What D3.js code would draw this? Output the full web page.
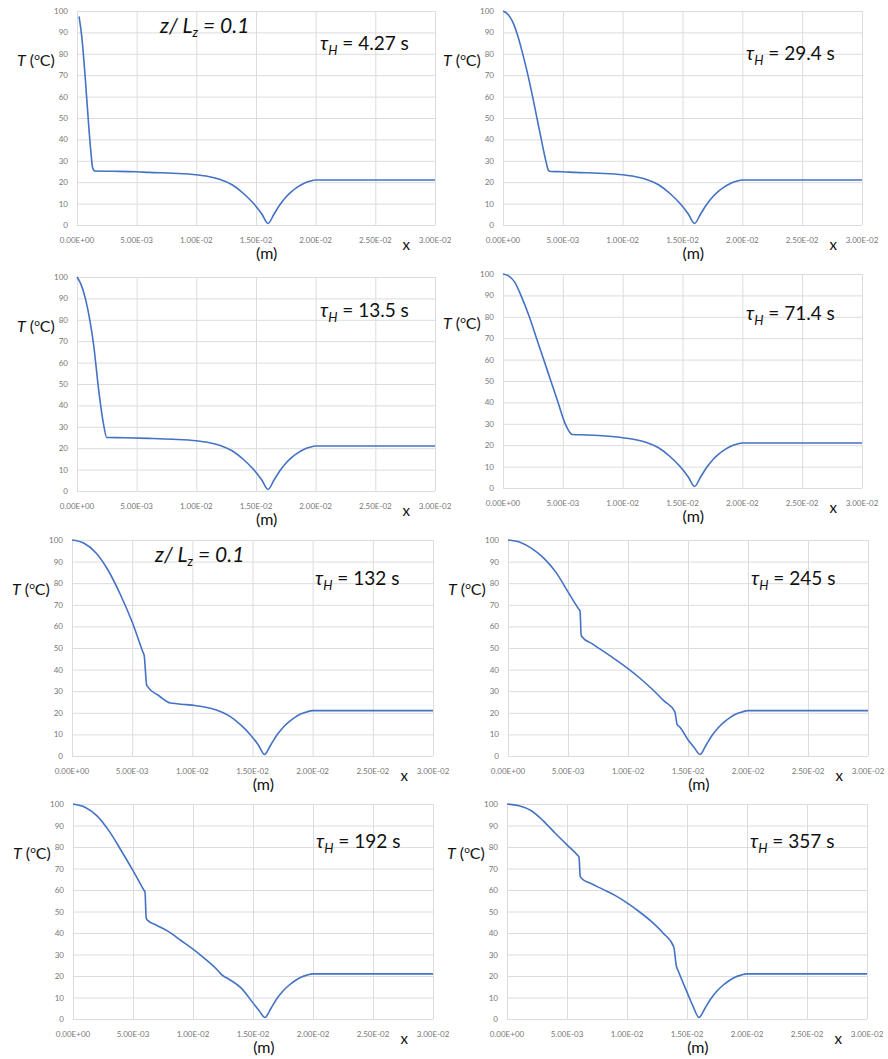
<!DOCTYPE html>
<html>
<head>
<meta charset="utf-8">
<script src="https://cdn.jsdelivr.net/npm/d3@7"></script>
<style>
  body { margin: 0; background: #fff; }
  svg { display: block; }
</style>
</head>
<body>
<script>
// tick values
var xTicks = [0, 0.005, 0.01, 0.015, 0.02, 0.025, 0.03];
var yTicks = [0, 10, 20, 30, 40, 50, 60, 70, 80, 90, 100];

// shared part of every profile: dip to ~0 at x = 1.6E-02, then flat 21
var tail = [[0.006,24.6],[0.008,24.2],[0.01,23.5],[0.011,22.7],[0.012,21.3],[0.013,18.8],
  [0.014,14.5],[0.0148,10],[0.0155,5],[0.016,0.7],[0.0165,5],[0.017,9.5],[0.0175,13],
  [0.018,15.7],[0.0185,17.8],[0.019,19.4],[0.0195,20.4],[0.02,21],[0.025,21],[0.03,21]];

// heads of each profile (x in m, T in C)
var t427 = [[0.00017,97.5],[0.0004,88],[0.0007,68],[0.001,45],[0.0012,32],[0.0013,27],[0.0015,25.2],[0.003,25.1],[0.005,24.9]];
var t294 = [[0,100],[0.0004,98.5],[0.0008,95],[0.0012,89],[0.0016,81],[0.002,72],[0.0024,62],[0.0028,51],[0.0032,40],[0.0036,29.5],[0.0038,25.5],[0.004,25],[0.005,24.9]];
var t135 = [[0,100],[0.0003,97],[0.0007,90],[0.0011,79],[0.0014,68],[0.0018,48],[0.0022,32],[0.0025,25],[0.004,24.9]];
var t714 = [[0,100],[0.0005,99],[0.001,96],[0.0015,90],[0.0022,80],[0.0028,70],[0.0034,60],[0.004,50],[0.0046,40],[0.0052,30],[0.0058,25],[0.007,24.8],[0.008,24.5]];
var t132 = [[0,100],[0.001,98.5],[0.002,94],[0.003,86],[0.004,75],[0.005,62],[0.0059,48],[0.006,46.5],[0.0062,33],[0.0063,32],[0.0072,28],[0.0082,24.5],[0.0095,23.8],[0.0102,23.4]];
var t245 = [[0,100],[0.001,99],[0.002,96],[0.003,91.5],[0.004,85],[0.005,76],[0.0059,68],[0.006,67.2],[0.0061,56],[0.0062,55],[0.007,52],[0.008,48.3],[0.009,44.5],[0.01,40.5],[0.011,36],[0.012,31],[0.013,25.5],[0.0139,20.5],[0.0141,14.5],[0.0143,13.5],[0.015,7.5],[0.0155,4],[0.016,0.7]];
var t192 = [[0,100],[0.001,98.5],[0.002,94.5],[0.003,87.5],[0.004,78.5],[0.005,69],[0.0059,60],[0.006,59],[0.0061,47],[0.0062,46],[0.007,43.5],[0.008,40.5],[0.009,36.5],[0.01,32.5],[0.011,28],[0.012,23],[0.0124,20.5],[0.013,18.5],[0.014,14.5],[0.015,7.5],[0.0155,4],[0.016,0.7]];
var t357 = [[0,100],[0.001,99.2],[0.002,97],[0.003,92.3],[0.004,86.5],[0.005,81],[0.0059,76],[0.006,75.3],[0.0061,66.5],[0.0062,65.5],[0.007,63],[0.008,60.3],[0.009,57.5],[0.01,54],[0.011,50],[0.012,45.5],[0.013,40],[0.0139,33.5],[0.0141,25],[0.0143,22],[0.015,12.5],[0.0155,6],[0.016,0.7]];

var tauValues = ["4.27", "29.4", "13.5", "71.4", "132", "245", "192", "357"];

var panels = [
  {head: t427, tau: tauValues[0], L: 77,  R: 435, T: 11,  B: 225, tauY: 50,  zl: true},
  {head: t294, tau: tauValues[1], L: 503, R: 862, T: 11,  B: 225, tauY: 60},
  {head: t135, tau: tauValues[2], L: 77,  R: 435, T: 277, B: 491, tauY: 317},
  {head: t714, tau: tauValues[3], L: 503, R: 862, T: 274, B: 488, tauY: 320},
  {head: t132, tau: tauValues[4], L: 72,  R: 433, T: 540, B: 756, tauY: 585, zl: true},
  {head: t245, tau: tauValues[5], L: 508, R: 868, T: 540, B: 756, tauY: 585},
  {head: t192, tau: tauValues[6], L: 73,  R: 433, T: 804, B: 1019, tauY: 848},
  {head: t357, tau: tauValues[7], L: 507, R: 867, T: 804, B: 1019, tauY: 848}
];

function sciFmt(v) {
  var s = d3.format(".2e")(v).toUpperCase();   // 5.00E-3
  return s.replace(/E([+-])(\d)$/, "E$10$2");
}

var svg = d3.select("body").append("svg")
  .attr("width", 888)
  .attr("height", 1059)
  .style("font-family", "Lato, 'Open Sans', sans-serif");

svg.append("rect").attr("width", 888).attr("height", 1059).attr("fill", "#fff");

panels.forEach(function(p) {
  var last = p.head[p.head.length - 1][0];
  var data = p.head.concat(tail.filter(function(d) { return d[0] > last; }));

  var x = d3.scaleLinear().domain([0, 0.03]).range([p.L, p.R]);
  var y = d3.scaleLinear().domain([0, 100]).range([p.B, p.T]);

  var g = svg.append("g");

  // gridlines
  g.append("g")
    .attr("transform", "translate(0," + p.B + ")")
    .call(d3.axisBottom(x).tickValues(xTicks).tickSize(-(p.B - p.T)).tickFormat(""))
    .call(function(a) {
      a.select(".domain").remove();
      a.selectAll("line").attr("stroke", "#dcdcdc");
    });
  g.append("g")
    .attr("transform", "translate(" + p.L + ",0)")
    .call(d3.axisLeft(y).tickValues(yTicks).tickSize(-(p.R - p.L)).tickFormat(""))
    .call(function(a) {
      a.select(".domain").remove();
      a.selectAll("line").attr("stroke", "#dcdcdc");
    });

  // tick labels
  g.selectAll(".ylab").data(yTicks).enter().append("text")
    .attr("x", p.L - 9)
    .attr("y", function(d) { return y(d) + 3; })
    .attr("text-anchor", "end")
    .attr("font-size", 8)
    .attr("fill", "#777")
    .text(function(d) { return d; });
  g.selectAll(".xlab").data(xTicks).enter().append("text")
    .attr("x", function(d) { return x(d); })
    .attr("y", p.B + 18)
    .attr("text-anchor", "middle")
    .attr("font-size", 8)
    .attr("fill", "#777")
    .text(sciFmt);

  // profile
  g.append("path")
    .datum(data)
    .attr("fill", "none")
    .attr("stroke", "#4472c4")
    .attr("stroke-width", 1.6)
    .attr("d", d3.line()
      .x(function(d) { return x(d[0]); })
      .y(function(d) { return y(d[1]); })
      .curve(d3.curveMonotoneX));

  // axis titles
  var ty = g.append("text")
    .attr("x", p.L - 60)
    .attr("y", p.T + 55)
    .attr("font-size", 16)
    .attr("fill", "#111");
  ty.append("tspan").attr("font-style", "italic").text("T");
  ty.append("tspan").text(" (");
  ty.append("tspan").attr("font-size", 10).attr("dy", -6).text("o");
  ty.append("tspan").attr("dy", 6).text("C)");

  g.append("text")
    .attr("x", p.L + 0.92 * (p.R - p.L))
    .attr("y", p.B + 25)
    .attr("text-anchor", "middle")
    .attr("font-size", 15)
    .attr("fill", "#111")
    .text("x");
  g.append("text")
    .attr("x", p.L + 0.53 * (p.R - p.L))
    .attr("y", p.B + 34)
    .attr("text-anchor", "middle")
    .attr("font-size", 16)
    .attr("fill", "#111")
    .text("(m)");

  // tau label
  var tl = g.append("text")
    .attr("x", p.L + 243)
    .attr("y", p.tauY)
    .attr("font-size", 19)
    .attr("fill", "#111");
  tl.append("tspan").attr("font-style", "italic").text("\u03c4");
  tl.append("tspan").attr("font-style", "italic").attr("font-size", 13).attr("dy", 5).text("H");
  tl.append("tspan").attr("dy", -5).text(" = " + p.tau + " s");

  if (p.zl) {
    var zt = g.append("text")
      .attr("x", p.L + 83)
      .attr("y", p.T + 22)
      .attr("font-size", 21)
      .attr("font-style", "italic")
      .attr("fill", "#111");
    zt.append("tspan").text("z/ L");
    zt.append("tspan").attr("font-size", 13).attr("dy", 4).text("z");
    zt.append("tspan").attr("dy", -4).text(" = 0.1");
  }
});
</script>
</body>
</html>
